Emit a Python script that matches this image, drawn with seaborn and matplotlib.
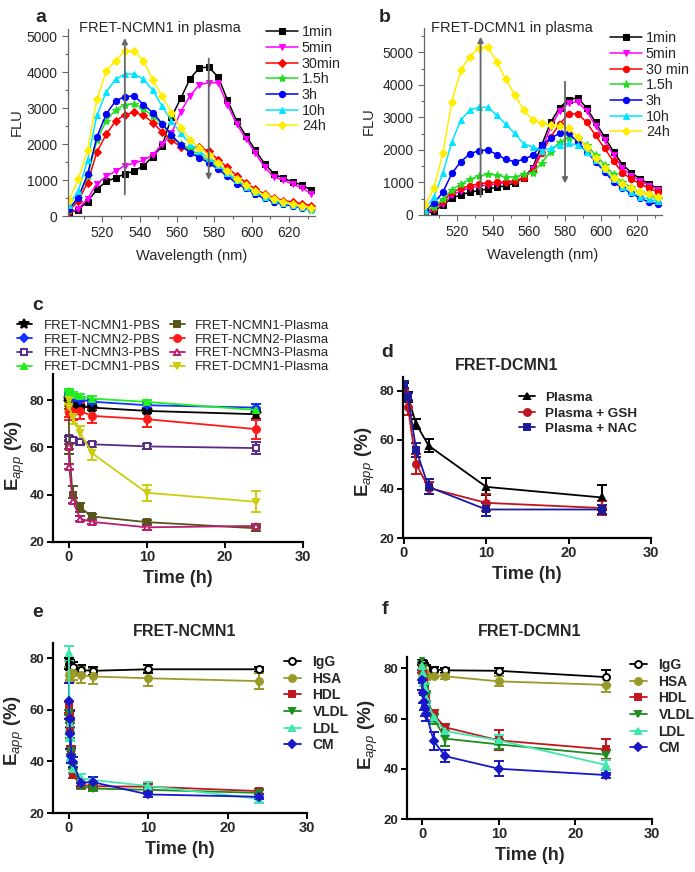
import matplotlib
matplotlib.use('Agg')
import matplotlib.pyplot as plt
from matplotlib.ticker import MultipleLocator
import seaborn as sns

sns.set_style('ticks')
plt.rcParams['font.family'] = ['Liberation Sans', 'DejaVu Sans']
plt.rcParams['mathtext.fontset'] = 'custom'
plt.rcParams['mathtext.rm'] = 'Liberation Sans'
plt.rcParams['mathtext.it'] = 'Liberation Sans:italic'
plt.rcParams['mathtext.bf'] = 'Liberation Sans:bold'

# ---- spectra (panels a, b) ----
wl = list(range(502, 633, 5))
spec_labels_a = ['1min', '5min', '30min', '1.5h', '3h', '10h', '24h']
spec_labels_b = ['1min', '5min', '30 min', '1.5h', '3h', '10h', '24h']
spec_colors = ['black', '#FF00FF', '#FF0000', '#22DD22', '#0000FF', '#00E5FF', '#FFEE00']
spec_markers_a = ['s', 'v', 'D', '*', 'o', '^', 'D']
spec_markers_b = ['s', 'v', 'o', '*', 'o', '^', 'D']

a_1min = [80, 180, 400, 740, 960, 1060, 1170, 1250, 1400, 1650, 1950, 2750, 3270, 3820,
          4120, 4140, 3870, 3230, 2640, 2230, 1830, 1450, 1170, 1050, 950, 860, 720]
a_5min = [100, 200, 480, 900, 1100, 1250, 1400, 1470, 1550, 1700, 2000, 2300, 2900, 3350,
          3650, 3710, 3700, 3100, 2550, 2150, 1750, 1350, 1080, 1000, 880, 780, 620]
a_30min = [140, 420, 930, 1780, 2270, 2640, 2820, 2880, 2800, 2600, 2330, 2100, 1930, 1900,
           1920, 1800, 1570, 1350, 1120, 930, 750, 610, 510, 430, 390, 340, 290]
a_1p5h = [160, 500, 1100, 2100, 2650, 2950, 3100, 3120, 2980, 2780, 2550, 2230, 2000, 1850,
          1700, 1530, 1350, 1150, 960, 780, 620, 500, 400, 330, 280, 240, 180]
a_3h = [200, 510, 1160, 2200, 2830, 3200, 3320, 3340, 3100, 2870, 2570, 2250, 1970, 1760,
        1620, 1480, 1300, 1110, 900, 770, 600, 490, 390, 320, 280, 230, 185]
a_10h = [300, 700, 1550, 2800, 3450, 3800, 3950, 3950, 3800, 3500, 3050, 2650, 2300, 2000,
         1800, 1600, 1420, 1200, 1000, 820, 660, 530, 440, 360, 300, 250, 200]
a_24h = [440, 1020, 1830, 3240, 4030, 4320, 4580, 4600, 4310, 3770, 3330, 2870, 2450, 2120,
         1900, 1700, 1480, 1250, 1040, 850, 700, 580, 480, 400, 340, 280, 230]

b_1min = [30, 120, 300, 520, 620, 700, 750, 800, 850, 900, 980, 1150, 1450, 2150,
          2850, 3300, 3550, 3600, 3300, 2850, 2400, 1950, 1550, 1300, 1100, 950, 800]
b_5min = [50, 150, 350, 600, 750, 830, 880, 920, 950, 990, 1020, 1150, 1400, 2000,
          2700, 3200, 3450, 3480, 3200, 2750, 2300, 1850, 1450, 1200, 1050, 900, 780]
b_30min = [80, 200, 420, 700, 820, 900, 960, 990, 1000, 1020, 1050, 1150, 1350, 1900,
           2400, 2800, 3100, 3120, 2850, 2450, 2050, 1650, 1300, 1100, 950, 820, 700]
b_1p5h = [100, 250, 480, 780, 950, 1100, 1200, 1250, 1230, 1170, 1170, 1250, 1300, 1600,
          1950, 2250, 2380, 2350, 2150, 1850, 1550, 1250, 1000, 850, 700, 600, 500]
b_3h = [150, 360, 700, 1280, 1640, 1880, 1980, 2000, 1860, 1710, 1640, 1710, 1840, 2150,
        2360, 2510, 2510, 2250, 1950, 1640, 1330, 1020, 820, 670, 510, 390, 340]
b_10h = [150, 560, 1280, 2250, 2920, 3230, 3310, 3310, 3070, 2790, 2510, 2180, 2100, 1980,
         2050, 2150, 2200, 2150, 1950, 1700, 1400, 1100, 850, 700, 560, 480, 420]
b_24h = [310, 820, 1900, 3480, 4460, 4870, 5140, 5170, 4710, 4180, 3690, 3230, 2920, 2820,
         2770, 2740, 2660, 2410, 2100, 1740, 1430, 1150, 950, 820, 720, 640, 560]

# arrows (wavelength, start FLU, end FLU)
arrows_a = [(532, 600, 4950), (577, 4380, 1000)]
arrows_b = [(533, 560, 5480), (580, 4100, 970)]

# ---- panel c ----
t_c = [0, 0.083, 0.5, 1.5, 3, 10, 24]
c_labels = ['FRET-NCMN1-PBS', 'FRET-NCMN2-PBS', 'FRET-NCMN3-PBS', 'FRET-DCMN1-PBS',
            'FRET-NCMN1-Plasma', 'FRET-NCMN2-Plasma', 'FRET-NCMN3-Plasma', 'FRET-DCMN1-Plasma']
c_colors = ['black', '#1030FF', '#5A2A86', '#22EE22', '#55551A', '#FF1A1A', '#B81E6E', '#CCCC10']
c_markers = ['*', 'D', 's', '^', 's', 'o', '^', 'v']
c_open = [False, False, True, False, False, False, True, False]
c_ncmn1_pbs = [80.5, 79, 78, 77.2, 76.8, 75.4, 74]
c_ncmn2_pbs = [82.5, 81.5, 80.8, 80.2, 79.3, 77.8, 76.8]
c_ncmn3_pbs = [63.8, 63.5, 63, 62.1, 61.3, 60.4, 59.7]
c_dcmn1_pbs = [83.8, 83, 82.3, 81.5, 80.6, 79.2, 75.8]
c_ncmn1_pl = [78, 60, 40, 34.5, 30.8, 28.4, 25.8]
c_ncmn2_pl = [76, 74.5, 75, 75.3, 73.3, 71.9, 67.7]
c_ncmn3_pl = [60.5, 51.8, 37.5, 29.8, 28.5, 26.2, 26.8]
c_dcmn1_pl = [80, 77, 73, 66, 57.5, 40.8, 37]
c_err = [[1, 1, 1, 1, 1, 1, 2], [1.5, 1, 1, 1, 1, 1, 1.5], [1, 1, 1, 1, 1, 1, 2.5],
         [1, 1, 1, 1, 1, 1, 1], [2, 3, 3.5, 2, 1, 1, 1], [3, 3, 3.5, 3.5, 3, 3.5, 4],
         [1, 1, 1, 1, 1, 1, 1], [2, 2, 3, 3, 3, 3.5, 4.5]]

# ---- panel d ----
t_d = [0, 0.5, 1.5, 3, 10, 24]
d_labels = ['Plasma', 'Plasma + GSH', 'Plasma + NAC']
d_colors = ['black', '#C0141E', '#1A1A9A']
d_markers = ['^', 'o', 's']
d_plasma = [82, 77.3, 66.4, 57.6, 40.8, 36.5]
d_gsh = [79.7, 73.2, 50.1, 40.4, 34.3, 32.2]
d_nac = [82.4, 77.3, 55.8, 40.8, 31.6, 31.6]
d_err = [[1, 2, 2, 2.5, 3.5, 5], [1, 3, 4, 2.5, 3.5, 3], [1.5, 1.5, 3, 3, 2.5, 2]]

# ---- panels e, f ----
t_ef = [0, 0.083, 0.167, 0.33, 0.5, 1.5, 3, 10, 24]
ef_labels = ['IgG', 'HSA', 'HDL', 'VLDL', 'LDL', 'CM']
ef_colors = ['black', '#9A9A28', '#C0171E', '#1E8C1E', '#40E8B0', '#1818C8']
ef_markers = ['o', 'o', 's', 'v', '^', 'D']
ef_open = [True, False, False, False, False, False]

e_igg = [78, 77.5, 77.5, 77, 76.5, 75.5, 75.2, 75.8, 75.8]
e_hsa = [73.5, 74, 74.5, 74.5, 74.5, 73.5, 73, 72.3, 71.2]
e_hdl = [61, 58, 53, 45, 34.7, 31, 30.4, 30.2, 28.5]
e_vldl = [59, 54, 50, 44, 38, 30.5, 29.5, 29, 27.8]
e_ldl = [82, 55, 50, 42, 37, 33.5, 32.8, 30.5, 25.5]
e_cm = [63.5, 56.5, 50.7, 42.3, 39.7, 31.8, 32, 27.2, 26.3]
e_err = [[2, 2, 1.5, 1.5, 2, 2, 1.5, 1.5, 1], [3, 3, 3, 3, 3, 3, 3, 3, 3],
         [2, 2, 2, 1, 1, 1, 1, 1, 1], [1, 1, 1, 1, 1, 1, 1, 1, 1],
         [3, 2, 2, 2, 2, 1.5, 1, 1.5, 1.5], [7, 3, 6, 3, 2, 1.5, 2, 1, 1]]

f_igg = [82.5, 82, 81, 80.5, 80, 79.5, 79.2, 79, 76.5]
f_hsa = [80, 79.5, 78.5, 78, 77.5, 77, 76.8, 74.8, 73.4]
f_hdl = [80, 78, 75, 72, 68, 61.5, 56.5, 51.3, 47.7]
f_vldl = [84, 80, 76, 72, 69, 60, 52, 49.7, 45.6]
f_ldl = [81, 78, 75, 72, 68, 60.5, 55, 51.3, 41.5]
f_cm = [75.5, 70, 66.5, 64, 62, 51, 45, 40, 37.5]
f_err = [[1, 1, 1, 1, 1.5, 1, 1, 1, 3], [2, 2, 2, 2, 2, 1, 1, 2, 3],
         [2, 2, 2, 2, 2, 2, 1.5, 4, 4], [2, 2, 2, 2, 2, 2, 3, 2, 2],
         [2, 2, 2, 2, 2, 2, 2, 2, 2], [4, 4, 3, 3, 3, 3.5, 2.5, 3, 1]]

W, H = 695, 872
fig = plt.figure(figsize=(W / 100, H / 100), dpi=100)


def px_axes(l, t, r, b):
    return fig.add_axes([l / W, 1 - b / H, (r - l) / W, (b - t) / H])


def ftext(x, y, s, **kw):
    fig.text(x / W, 1 - y / H, s, ha='center', va='center', **kw)


def spectra_panel(ax, series, labels, markers, arrows, ylim, leg_xy, ylab_pad):
    for vals, lab, col, m in zip(series, labels, spec_colors, markers):
        ms = 4 if m == 'D' else (6 if m == '*' else 4.5)
        sns.lineplot(x=wl, y=vals, ax=ax, color=col, marker=m, markersize=ms,
                     markeredgecolor=col, lw=1.1, label=lab)
    for x, y0, y1 in arrows:
        ax.annotate('', xy=(x, y1), xytext=(x, y0),
                    arrowprops=dict(arrowstyle='-|>', color='#666666', lw=1.3,
                                    mutation_scale=8, shrinkA=0, shrinkB=0))
    ax.set_xlim(501.5, 634)
    ax.set_ylim(*ylim)
    ax.xaxis.set_minor_locator(MultipleLocator(10))
    ax.yaxis.set_major_locator(MultipleLocator(1000))
    ax.yaxis.set_minor_locator(MultipleLocator(500))
    ax.set_xticks([520, 540, 560, 580, 600, 620])
    ax.tick_params(labelsize=10, length=4, width=0.8, color='#666666')
    ax.tick_params(which='minor', length=2.5, width=0.8, color='#666666')
    for s in ['top', 'right']:
        ax.spines[s].set_visible(False)
    for s in ['left', 'bottom']:
        ax.spines[s].set_color('#666666')
        ax.spines[s].set_linewidth(0.9)
    ax.set_xlabel('Wavelength (nm)', fontsize=10.5, labelpad=6)
    ax.set_ylabel('FLU', fontsize=10.5, labelpad=ylab_pad)
    ax.legend_.remove()
    h, l = ax.get_legend_handles_labels()
    fig.legend(h, l, loc='upper left', bbox_to_anchor=(leg_xy[0] / W, 1 - leg_xy[1] / H),
               frameon=False, fontsize=10.3, borderpad=0, labelspacing=0.12,
               handlelength=2.2, handletextpad=0.3)


ax_a = px_axes(68, 29, 315, 216)
spectra_panel(ax_a, [a_1min, a_5min, a_30min, a_1p5h, a_3h, a_10h, a_24h],
              spec_labels_a, spec_markers_a, arrows_a, (0, 5200), (259, 18), 2)
ftext(160, 28, 'FRET-NCMN1 in plasma', fontsize=10.5)

ax_b = px_axes(424, 28, 662, 215)
spectra_panel(ax_b, [b_1min, b_5min, b_30min, b_1p5h, b_3h, b_10h, b_24h],
              spec_labels_b, spec_markers_b, arrows_b, (0, 5750), (603, 24), 5)
ftext(512, 28, 'FRET-DCMN1 in plasma', fontsize=10.5)


def time_panel(ax, t, series, errs, colors, markers, opens, ylim, xlim):
    handles = []
    for vals, err, col, m, op in zip(series, errs, colors, markers, opens):
        ms = 7 if m == '*' else (4.2 if m == 'D' else 5)
        h = ax.errorbar(t, vals, yerr=err, color=col, marker=m, ms=ms,
                        mfc='white' if op else col, mec=col, mew=1.4, lw=1.3,
                        elinewidth=1.5, capsize=3.5, capthick=1.5)
        handles.append(h[0])
    ax.set_xlim(*xlim)
    ax.set_ylim(*ylim)
    ax.set_xticks([0, 10, 20, 30])
    ax.set_yticks([20, 40, 60, 80])
    for s in ['top', 'right']:
        ax.spines[s].set_visible(False)
    for s in ['left', 'bottom']:
        ax.spines[s].set_color('black')
        ax.spines[s].set_linewidth(1.6)
    ax.tick_params(length=4, width=1.4, color='black', pad=2)
    for lab in ax.get_xticklabels():
        lab.set_fontweight('bold')
        lab.set_fontsize(10.5)
    for lab in ax.get_yticklabels():
        lab.set_fontweight('bold')
        lab.set_fontsize(9.5)
    ax.set_xlabel('Time (h)', fontsize=13, fontweight='bold', labelpad=4)
    return handles


ylab = r'$\mathbf{E}_{app}$ (%)'

# panel c
ax_c = px_axes(53, 374, 303, 542)
hc = time_panel(ax_c, t_c, [c_ncmn1_pbs, c_ncmn2_pbs, c_ncmn3_pbs, c_dcmn1_pbs,
                            c_ncmn1_pl, c_ncmn2_pl, c_ncmn3_pl, c_dcmn1_pl],
                c_err, c_colors, c_markers, c_open, (20, 91), (-2, 30))
fig.legend(hc[:4], c_labels[:4], loc='upper left', bbox_to_anchor=(10 / W, 1 - 313 / H),
           frameon=False, fontsize=9.5, borderpad=0, labelspacing=0.12,
           handlelength=1.15, handletextpad=0.9)
fig.legend(hc[4:], c_labels[4:], loc='upper left', bbox_to_anchor=(163 / W, 1 - 313 / H),
           frameon=False, fontsize=9.5, borderpad=0, labelspacing=0.12,
           handlelength=1.15, handletextpad=0.75)
ftext(15, 456, ylab, fontsize=13.5, fontweight='bold', rotation=90)

# panel d
ax_d = px_axes(403, 377, 651, 538)
hd = time_panel(ax_d, t_d, [d_plasma, d_gsh, d_nac], d_err, d_colors, d_markers,
                [False] * 3, (20, 85.5), (-0.1, 30))
fig.legend(hd, d_labels, loc='upper left', bbox_to_anchor=(512 / W, 1 - 385 / H),
           frameon=False, prop={'weight': 'bold', 'size': 9.7}, borderpad=0,
           labelspacing=0.22, handlelength=1.2, handletextpad=0.75)
ftext(507, 365, 'FRET-DCMN1', fontsize=11.5, fontweight='bold')
ftext(365, 462, ylab, fontsize=13.5, fontweight='bold', rotation=90)

# panel e
ax_e = px_axes(53, 643, 307, 813)
he = time_panel(ax_e, t_ef, [e_igg, e_hsa, e_hdl, e_vldl, e_ldl, e_cm], e_err,
                ef_colors, ef_markers, ef_open, (20, 86), (-2, 30))
fig.legend(he, ef_labels, loc='upper left', bbox_to_anchor=(277 / W, 1 - 648 / H),
           frameon=False, prop={'weight': 'bold', 'size': 10}, borderpad=0,
           labelspacing=0.19, handlelength=1.2, handletextpad=0.85)
ftext(185, 632, 'FRET-NCMN1', fontsize=11.5, fontweight='bold')
ftext(14, 731, ylab, fontsize=13.5, fontweight='bold', rotation=90)

# panel f
ax_f = px_axes(407, 657, 652, 819)
hf = time_panel(ax_f, t_ef, [f_igg, f_hsa, f_hdl, f_vldl, f_ldl, f_cm], f_err,
                ef_colors, ef_markers, ef_open, (20, 84.5), (-2, 30))
fig.legend(hf, ef_labels, loc='upper left', bbox_to_anchor=(623 / W, 1 - 651 / H),
           frameon=False, prop={'weight': 'bold', 'size': 10}, borderpad=0,
           labelspacing=0.19, handlelength=1.2, handletextpad=0.85)
ftext(530, 632, 'FRET-DCMN1', fontsize=11.5, fontweight='bold')
ftext(368, 735, ylab, fontsize=13.5, fontweight='bold', rotation=90)

# panel letters
for s, x, y in [('a', 41, 18), ('b', 385, 18), ('c', 38, 305),
                ('d', 387, 352), ('e', 38, 612), ('f', 385, 610)]:
    ftext(x, y, s, fontsize=14, fontweight='bold')

fig.savefig('out.png', dpi=100)
